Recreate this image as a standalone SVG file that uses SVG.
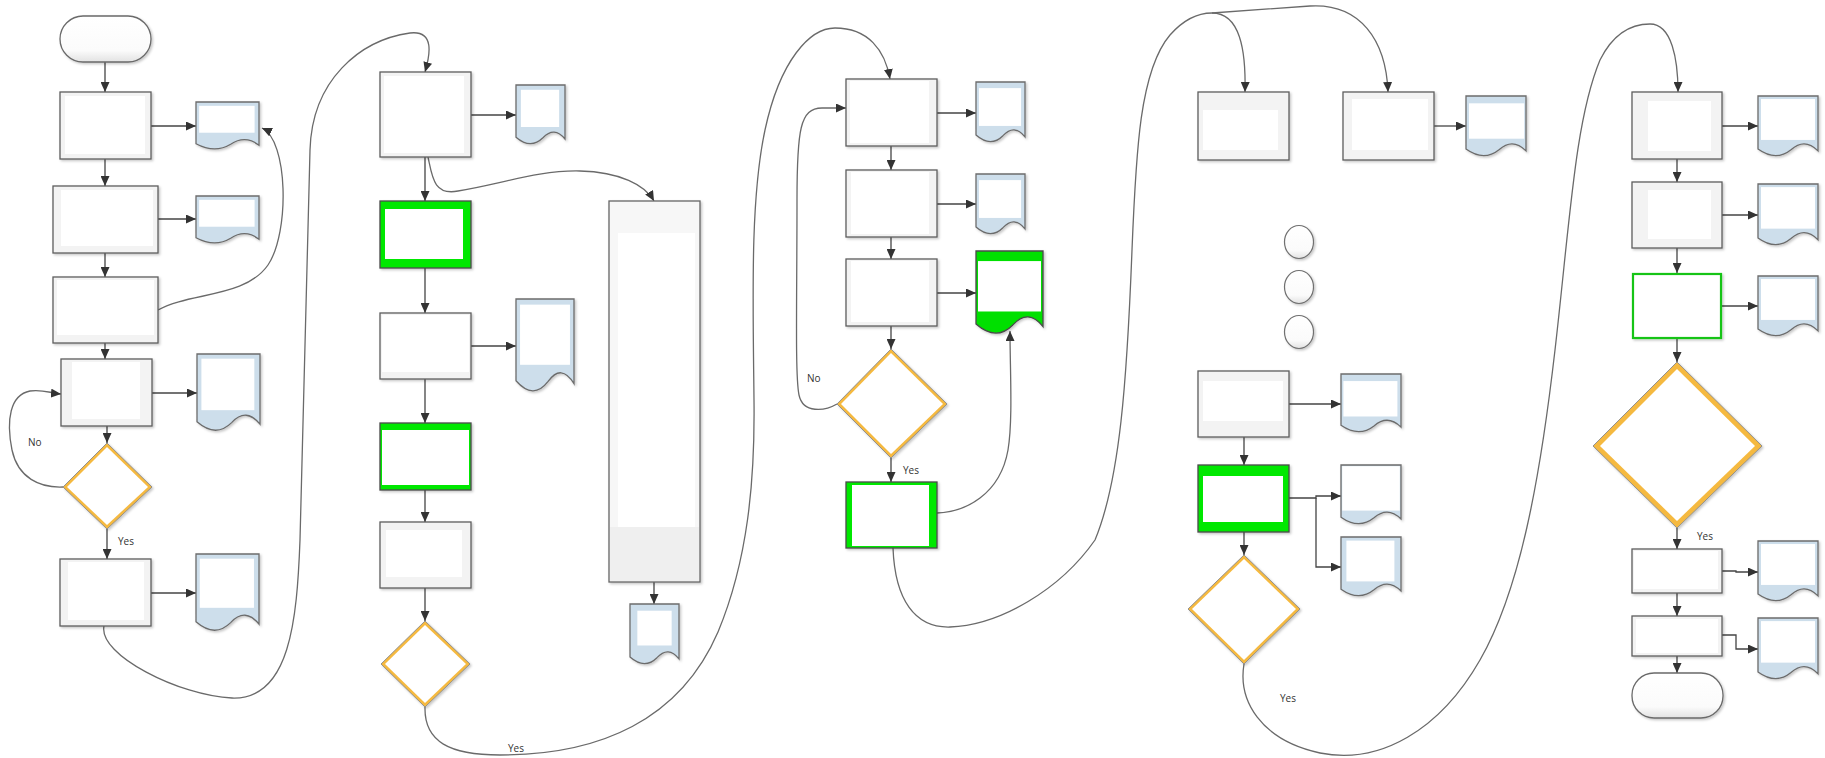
<svg xmlns="http://www.w3.org/2000/svg" xmlns:xlink="http://www.w3.org/1999/xlink" width="1825" height="758" viewBox="0 0 1825 758">
  <defs>
    <style>
      .proc { fill: #f3f3f3; stroke: #5e5e5e; stroke-width: 1.3; }
      .procIn { fill: #ffffff; }
      .term { fill: url(#termGrad); stroke: #6a6a6a; stroke-width: 1.3; }
      .green { fill: #00e800; stroke: #4a4a4a; stroke-width: 1.3; }
      .greenThin { fill: #ffffff; stroke: #16c416; stroke-width: 2.2; }
      .docBody { fill: #cddeeb; stroke: #6c6c6c; stroke-width: 1.3; }
      .docGreen { fill: #00e000; stroke: #4a4a4a; stroke-width: 1.3; }
      .docIn { fill: #ffffff; }
      .dia { fill: #f5b93f; stroke: #8a8a8a; stroke-width: 0.9; }
      .diaIn { fill: #ffffff; }
      .circ { fill: url(#termGrad); stroke: #707070; stroke-width: 1.2; }
      .tall { fill: #f7f7f7; stroke: #666666; stroke-width: 1.3; }
      .flow { fill: none; stroke: #444444; stroke-width: 1.3; marker-end: url(#arrow); }
      .curve { fill: none; stroke: #6a6a6a; stroke-width: 1.3; }
      .curveA { fill: none; stroke: #6a6a6a; stroke-width: 1.3; marker-end: url(#arrow); }
      .lbl { font-family: "Open Sans", "Liberation Sans", sans-serif; font-size: 10px; fill: #333333; }
      .shadow { filter: url(#drop); }
    </style>
    <linearGradient id="termGrad" x1="0" y1="0" x2="0" y2="1">
      <stop offset="0" stop-color="#ffffff"/>
      <stop offset="0.75" stop-color="#fbfbfb"/>
      <stop offset="1" stop-color="#e2e2e2"/>
    </linearGradient>
    <filter id="drop" x="-10%" y="-10%" width="130%" height="130%">
      <feDropShadow dx="1.5" dy="1.5" stdDeviation="1" flood-color="#000000" flood-opacity="0.22"/>
    </filter>
    <marker id="arrow" markerUnits="userSpaceOnUse" markerWidth="11" markerHeight="9" refX="10" refY="4.5" orient="auto">
      <path d="M0,0 L10,4.5 L0,9 Z" fill="#333333"/>
    </marker>
    <!-- unit document outline, scaled per node -->
    <path id="docShape" d="M0,0 H1 V0.9 Q0.78,0.68 0.55,0.88 Q0.3,1.08 0,0.87 Z" vector-effect="non-scaling-stroke"/>
  </defs>

  <rect width="1825" height="758" fill="#ffffff"/>

  <!-- ===== connectors ===== -->
  <g id="connectors">
    <!-- column 1 -->
    <path class="flow" d="M105,62 V92"/>
    <path class="flow" d="M151,126 H196"/>
    <path class="flow" d="M105,159 V186"/>
    <path class="flow" d="M158,219 H196"/>
    <path class="flow" d="M105,253 V277"/>
    <path class="curveA" d="M158,310 C190,292 245,298 268,265 C290,232 288,140 262,128"/>
    <path class="flow" d="M105,343 V359"/>
    <path class="flow" d="M152,393 H197"/>
    <path class="flow" d="M107,426 V443"/>
    <path class="curveA" d="M63,487 C40,488 18,478 12,450 C6,420 10,395 30,391 C42,389 50,393 61,394"/>
    <path class="flow" d="M107,529 V559"/>
    <path class="flow" d="M151,593 H196"/>
    <path class="curveA" d="M104,626 C98,655 180,696 232,698 C290,700 297,620 300,540 C303,450 306,300 310,150 C312,80 360,40 410,33 C435,30 430,55 425,72"/>

    <!-- column 2 -->
    <path class="flow" d="M471,115 H516"/>
    <path class="flow" d="M425,157 V201"/>
    <path class="curveA" d="M428,157 C432,175 433,196 458,191 C500,184 540,170 580,171 C620,172 645,185 654,201"/>
    <path class="flow" d="M425,268 V313"/>
    <path class="flow" d="M471,346 H516"/>
    <path class="flow" d="M425,379 V423"/>
    <path class="flow" d="M425,490 V522"/>
    <path class="flow" d="M425,588 V621"/>
    <path class="flow" d="M654,582 V604"/>
    <path class="curveA" d="M425,707 C424,742 450,755 500,755 C600,755 680,720 718,632 C748,560 755,480 754,400 C753,300 750,200 765,130 C780,60 810,28 835,28 C868,28 885,50 890,79"/>

    <!-- column 3 -->
    <path class="flow" d="M937,113 H976"/>
    <path class="flow" d="M891,146 V170"/>
    <path class="flow" d="M937,204 H976"/>
    <path class="flow" d="M891,237 V259"/>
    <path class="flow" d="M937,293 H976"/>
    <path class="flow" d="M891,326 V349"/>
    <path class="curveA" d="M837,404 C825,411 803,414 799,395 C795,375 797,300 797,200 C797,130 800,108 822,108 L846,108"/>
    <path class="flow" d="M891,458 V482"/>
    <path class="curveA" d="M937,513 C965,512 1000,495 1008,450 C1013,420 1010,370 1010,331"/>
    <path class="curve" d="M893,548 C895,600 915,628 950,627 C1000,625 1060,590 1095,540 C1120,480 1127,380 1132,250 C1136,150 1140,70 1170,35 C1185,18 1200,13 1212,13"/>
    <path class="curveA" d="M1212,13 C1240,13 1246,50 1245,92"/>
    <path class="curveA" d="M1212,13 C1250,10 1280,8 1310,6 C1360,3 1386,40 1388,92"/>

    <!-- column 4 -->
    <path class="flow" d="M1434,126 H1466"/>
    <path class="flow" d="M1289,404 H1341"/>
    <path class="flow" d="M1244,437 V465"/>
    <path class="flow" d="M1289,498 H1316 V496 H1341"/>
    <path class="flow" d="M1316,498 V567 H1341"/>
    <path class="flow" d="M1244,532 V555"/>
    <path class="curveA" d="M1244,664 C1238,700 1260,740 1320,753 C1380,765 1440,730 1480,660 C1520,590 1540,480 1555,350 C1570,220 1575,120 1600,60 C1615,30 1635,24 1650,24 C1672,24 1678,60 1678,92"/>

    <!-- column 5 -->
    <path class="flow" d="M1722,126 H1758"/>
    <path class="flow" d="M1677,159 V182"/>
    <path class="flow" d="M1722,215 H1758"/>
    <path class="flow" d="M1677,248 V273"/>
    <path class="flow" d="M1722,306 H1758"/>
    <path class="flow" d="M1677,339 V362"/>
    <path class="flow" d="M1677,528 V549"/>
    <path class="flow" d="M1722,571 H1736 V572 H1758"/>
    <path class="flow" d="M1677,593 V616"/>
    <path class="flow" d="M1722,635 H1736 V649 H1758"/>
    <path class="flow" d="M1677,656 V673"/>
  </g>

  <!-- ===== labels ===== -->
  <g id="labels">
    <text class="lbl" x="28" y="446">No</text>
    <text class="lbl" x="118" y="545">Yes</text>
    <text class="lbl" x="508" y="752">Yes</text>
    <text class="lbl" x="807" y="382">No</text>
    <text class="lbl" x="903" y="474">Yes</text>
    <text class="lbl" x="1280" y="702">Yes</text>
    <text class="lbl" x="1697" y="540">Yes</text>
  </g>

  <!-- ===== column 1 ===== -->
  <g id="start" class="shadow"><rect class="term" x="60" y="16" width="91" height="46" rx="23"/></g>
  <g id="p1" class="shadow"><rect class="proc" x="60" y="92" width="91" height="67"/><rect class="procIn" x="65" y="96" width="80" height="58"/></g>
  <g id="d1" class="shadow"><g transform="translate(196,102) scale(63,48)"><use href="#docShape" class="docBody"/><rect class="docIn" x="0.05" y="0.08" width="0.88" height="0.56"/></g></g>
  <g id="p2" class="shadow"><rect class="proc" x="53" y="186" width="105" height="67"/><rect class="procIn" x="61" y="190" width="92" height="56"/></g>
  <g id="d2" class="shadow"><g transform="translate(196,196) scale(63,48)"><use href="#docShape" class="docBody"/><rect class="docIn" x="0.05" y="0.08" width="0.88" height="0.56"/></g></g>
  <g id="p3" class="shadow"><rect class="proc" x="53" y="277" width="105" height="66"/><rect class="procIn" x="57" y="280" width="97" height="55"/></g>
  <g id="p4" class="shadow"><rect class="proc" x="61" y="359" width="91" height="67"/><rect class="procIn" x="72" y="362" width="68" height="57"/></g>
  <g id="d4" class="shadow"><g transform="translate(197,354) scale(63,78)"><use href="#docShape" class="docBody"/><rect class="docIn" x="0.07" y="0.06" width="0.84" height="0.66"/></g></g>
  <g id="q1" class="shadow"><polygon class="dia" points="107,443 152,487 107,529 63,487"/><polygon class="diaIn" points="107,447 148,487 107,525 67,487"/></g>
  <g id="p5" class="shadow"><rect class="proc" x="60" y="559" width="91" height="67"/><rect class="procIn" x="68" y="562" width="76" height="58"/></g>
  <g id="d5" class="shadow"><g transform="translate(196,554) scale(63,78)"><use href="#docShape" class="docBody"/><rect class="docIn" x="0.06" y="0.06" width="0.86" height="0.63"/></g></g>

  <!-- ===== column 2 ===== -->
  <g id="pa" class="shadow"><rect class="proc" x="380" y="72" width="91" height="85"/><rect class="procIn" x="384" y="76" width="80" height="77"/></g>
  <g id="da" class="shadow"><g transform="translate(516,85) scale(49,60)"><use href="#docShape" class="docBody"/><rect class="docIn" x="0.1" y="0.08" width="0.78" height="0.62"/></g></g>
  <g id="g1" class="shadow"><rect class="green" x="380" y="201" width="91" height="67"/><rect class="procIn" x="385" y="209" width="78" height="50"/></g>
  <g id="pb" class="shadow"><rect class="proc" x="380" y="313" width="91" height="66"/><rect class="procIn" x="382" y="315" width="87" height="57"/></g>
  <g id="db" class="shadow"><g transform="translate(516,299) scale(58,94)"><use href="#docShape" class="docBody"/><rect class="docIn" x="0.07" y="0.06" width="0.86" height="0.64"/></g></g>
  <g id="g2" class="shadow"><rect class="green" x="380" y="423" width="91" height="67"/><rect class="procIn" x="382" y="430" width="87" height="55"/></g>
  <g id="pc" class="shadow"><rect class="proc" x="380" y="522" width="91" height="66"/><rect class="procIn" x="386" y="530" width="76" height="47"/></g>
  <g id="q2" class="shadow"><polygon class="dia" points="425,621 470,664 425,707 381,664"/><polygon class="diaIn" points="425,625 466,664 425,703 385,664"/></g>
  <g id="tall" class="shadow">
    <rect class="tall" x="609" y="201" width="91" height="381"/>
    <rect x="610" y="527" width="89" height="54" fill="#efefef"/>
    <rect x="618" y="233" width="77" height="294" fill="#ffffff"/>
  </g>
  <g id="dt" class="shadow"><g transform="translate(630,604) scale(49,61)"><use href="#docShape" class="docBody"/><rect class="docIn" x="0.15" y="0.11" width="0.7" height="0.57"/></g></g>

  <!-- ===== column 3 ===== -->
  <g id="pd1" class="shadow"><rect class="proc" x="846" y="79" width="91" height="67"/><rect class="procIn" x="850" y="81" width="79" height="62"/></g>
  <g id="dd1" class="shadow"><g transform="translate(976,82) scale(49,61)"><use href="#docShape" class="docBody"/><rect class="docIn" x="0.06" y="0.1" width="0.86" height="0.62"/></g></g>
  <g id="pd2" class="shadow"><rect class="proc" x="846" y="170" width="91" height="67"/><rect class="procIn" x="851" y="172" width="78" height="62"/></g>
  <g id="dd2" class="shadow"><g transform="translate(976,174) scale(49,61)"><use href="#docShape" class="docBody"/><rect class="docIn" x="0.06" y="0.1" width="0.86" height="0.62"/></g></g>
  <g id="pd3" class="shadow"><rect class="proc" x="846" y="259" width="91" height="67"/><rect class="procIn" x="851" y="261" width="78" height="61"/></g>
  <g id="dd3" class="shadow"><g transform="translate(976,251) scale(67,84)"><use href="#docShape" class="docGreen"/><rect class="docIn" x="0.03" y="0.12" width="0.94" height="0.6"/></g></g>
  <g id="q3" class="shadow"><polygon class="dia" points="891,349 947,404 891,458 837,404"/><polygon class="diaIn" points="891,353 943,404 891,454 841,404"/></g>
  <g id="g3" class="shadow"><rect class="green" x="846" y="482" width="91" height="66"/><rect class="procIn" x="852" y="485" width="77" height="61"/></g>

  <!-- ===== column 4 ===== -->
  <g id="pe1" class="shadow"><rect class="proc" x="1198" y="92" width="91" height="68"/><rect class="procIn" x="1203" y="110" width="75" height="40"/></g>
  <g id="pe2" class="shadow"><rect class="proc" x="1343" y="92" width="91" height="68"/><rect class="procIn" x="1352" y="99" width="76" height="51"/></g>
  <g id="de2" class="shadow"><g transform="translate(1466,96) scale(60,61)"><use href="#docShape" class="docBody"/><rect class="docIn" x="0.05" y="0.12" width="0.92" height="0.58"/></g></g>
  <g id="c1" class="shadow"><ellipse class="circ" cx="1299" cy="242" rx="14.5" ry="16.5"/></g>
  <g id="c2" class="shadow"><ellipse class="circ" cx="1299" cy="287" rx="14.5" ry="16.5"/></g>
  <g id="c3" class="shadow"><ellipse class="circ" cx="1299" cy="332" rx="14.5" ry="16.5"/></g>
  <g id="pe3" class="shadow"><rect class="proc" x="1198" y="371" width="91" height="66"/><rect class="procIn" x="1203" y="381" width="80" height="40"/></g>
  <g id="de3" class="shadow"><g transform="translate(1341,374) scale(60,59)"><use href="#docShape" class="docBody"/><rect class="docIn" x="0.04" y="0.12" width="0.9" height="0.6"/></g></g>
  <g id="g4" class="shadow"><rect class="green" x="1198" y="465" width="91" height="67"/><rect class="procIn" x="1203" y="476" width="80" height="46"/></g>
  <g id="de4a" class="shadow"><g transform="translate(1341,465) scale(60,60)"><use href="#docShape" class="docBody"/><rect class="docIn" x="0.02" y="0.02" width="0.96" height="0.74"/></g></g>
  <g id="de4b" class="shadow"><g transform="translate(1341,537) scale(60,60)"><use href="#docShape" class="docBody"/><rect class="docIn" x="0.09" y="0.06" width="0.8" height="0.68"/></g></g>
  <g id="qe" class="shadow"><polygon class="dia" points="1244,555 1300,609 1244,664 1188,609"/><polygon class="diaIn" points="1244,559 1296,609 1244,660 1192,609"/></g>

  <!-- ===== column 5 ===== -->
  <g id="pf1" class="shadow"><rect class="proc" x="1632" y="92" width="90" height="67"/><rect class="procIn" x="1648" y="101" width="63" height="50"/></g>
  <g id="df1" class="shadow"><g transform="translate(1758,96) scale(60,61)"><use href="#docShape" class="docBody"/><rect class="docIn" x="0.05" y="0.05" width="0.9" height="0.67"/></g></g>
  <g id="pf2" class="shadow"><rect class="proc" x="1632" y="182" width="90" height="66"/><rect class="procIn" x="1648" y="190" width="63" height="49"/></g>
  <g id="df2" class="shadow"><g transform="translate(1758,184) scale(60,62)"><use href="#docShape" class="docBody"/><rect class="docIn" x="0.05" y="0.05" width="0.9" height="0.67"/></g></g>
  <g id="pf3" class="shadow"><rect class="greenThin" x="1633" y="274" width="88" height="64"/></g>
  <g id="df3" class="shadow"><g transform="translate(1758,276) scale(60,61)"><use href="#docShape" class="docBody"/><rect class="docIn" x="0.05" y="0.05" width="0.9" height="0.67"/></g></g>
  <g id="qf" class="shadow"><polygon class="dia" points="1677,362 1762,446 1677,528 1593,446"/><polygon class="diaIn" points="1677,369 1755,446 1677,521 1600,446"/></g>
  <g id="pf4" class="shadow"><rect class="proc" x="1632" y="549" width="90" height="44"/><rect class="procIn" x="1634" y="551" width="84" height="38"/></g>
  <g id="df4" class="shadow"><g transform="translate(1758,541) scale(60,61)"><use href="#docShape" class="docBody"/><rect class="docIn" x="0.05" y="0.05" width="0.9" height="0.67"/></g></g>
  <g id="pf5" class="shadow"><rect class="proc" x="1632" y="616" width="90" height="40"/><rect class="procIn" x="1636" y="619" width="82" height="34"/></g>
  <g id="df5" class="shadow"><g transform="translate(1758,618) scale(60,62)"><use href="#docShape" class="docBody"/><rect class="docIn" x="0.05" y="0.05" width="0.9" height="0.67"/></g></g>
  <g id="end" class="shadow"><rect class="term" x="1632" y="673" width="91" height="45" rx="22"/></g>
</svg>
